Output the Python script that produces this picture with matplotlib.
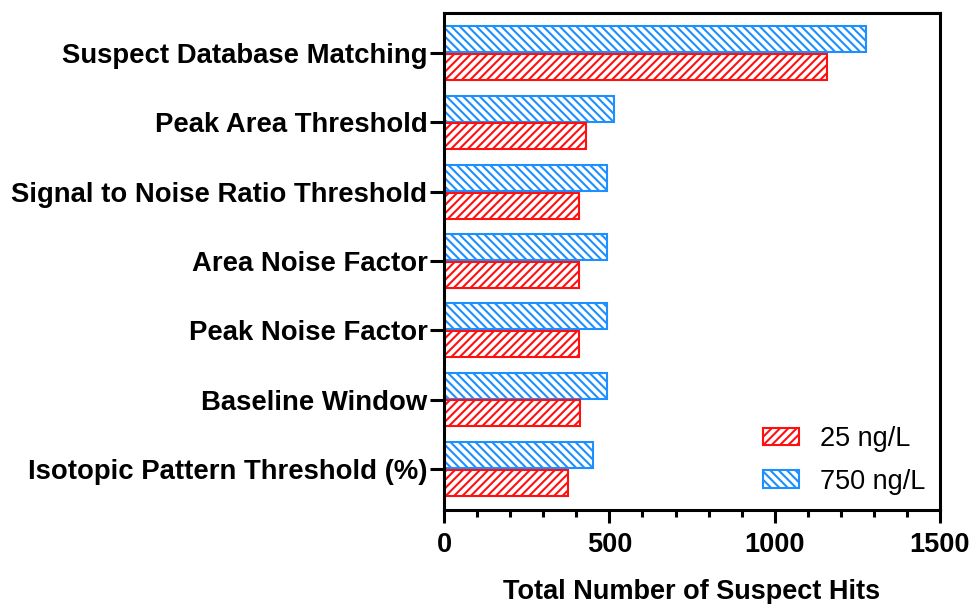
import matplotlib.pyplot as plt
import numpy as np
from matplotlib.ticker import MultipleLocator

plt.rcParams['font.family'] = ['Liberation Sans', 'DejaVu Sans']
plt.rcParams['hatch.linewidth'] = 1.5

categories = ['Suspect Database Matching', 'Peak Area Threshold',
              'Signal to Noise Ratio Threshold', 'Area Noise Factor',
              'Peak Noise Factor', 'Baseline Window',
              'Isotopic Pattern Threshold (%)']
hits_25 = [1157, 428, 409, 409, 407, 410, 376]
hits_750 = [1276, 514, 494, 494, 494, 494, 451]

fig = plt.figure(figsize=(9.74, 6.04), dpi=100)
ax = fig.add_axes([0.456, 0.156, 0.509, 0.8225])

y = np.arange(len(categories))
h = 0.375
ax.barh(y - 0.2, hits_750, height=h, color='white', edgecolor='#1E8FFF',
        hatch='\\\\\\\\', linewidth=1.5, label='750 ng/L')
ax.barh(y + 0.2, hits_25, height=h, color='white', edgecolor='#FF1010',
        hatch='////', linewidth=1.5, label='25 ng/L')

ax.set_ylim(6.59, -0.58)
ax.set_xlim(0, 1500)
ax.set_yticks(y)
ax.set_yticklabels(categories, fontsize=19.8, fontweight='bold')
ax.xaxis.set_major_locator(MultipleLocator(500))
ax.xaxis.set_minor_locator(MultipleLocator(100))
for lab in ax.get_xticklabels():
    lab.set_fontweight('bold')
ax.tick_params(axis='x', which='major', labelsize=19.5, length=9, width=2.2, pad=7)
ax.tick_params(axis='x', which='minor', length=5, width=2.2)
ax.tick_params(axis='y', length=10, width=2.2, pad=2)
for s in ax.spines.values():
    s.set_linewidth(2.2)

ax.set_xlabel('Total Number of Suspect Hits', fontsize=19.5, fontweight='bold', labelpad=15)

handles, labels = ax.get_legend_handles_labels()
ax.legend(handles[::-1], labels[::-1], loc='lower right', frameon=False,
          fontsize=19.5, handlelength=1.35, handleheight=0.63, labelspacing=0.62,
          handletextpad=0.75, borderpad=0, borderaxespad=0,
          bbox_to_anchor=(0.97, 0.03))

fig.savefig('out.png', dpi=100)
